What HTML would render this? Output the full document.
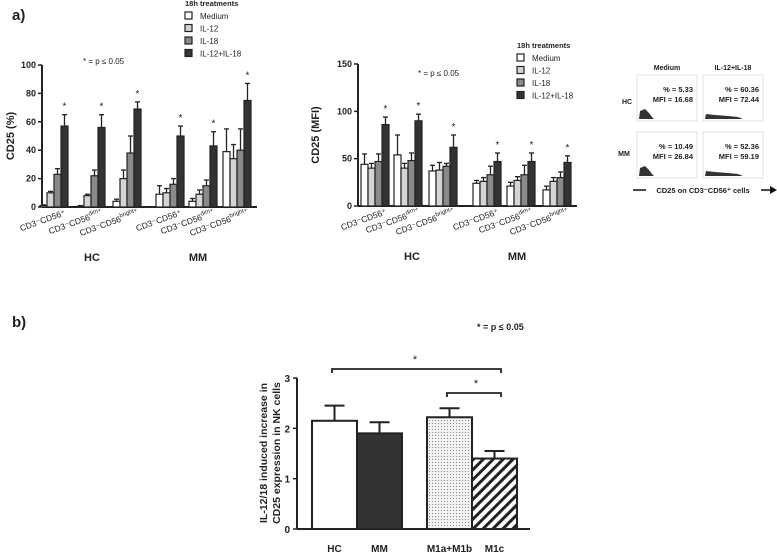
<!DOCTYPE html>
<html><head><meta charset="utf-8"><style>
body{margin:0;background:#fff;}
svg{display:block;font-family:"Liberation Sans",Arial,sans-serif;}
text{fill:#222;}
</style></head><body>
<svg id="fig" width="777" height="555" viewBox="0 0 777 555">
<defs>
<pattern id="dots" width="3" height="3" patternUnits="userSpaceOnUse"><rect width="3" height="3" fill="#f2f2f2"/><rect width="1" height="1" fill="#888"/></pattern>
<pattern id="hatch" width="7" height="7" patternUnits="userSpaceOnUse" patternTransform="rotate(45)"><rect width="7" height="7" fill="#fff"/><rect width="3" height="7" fill="#222"/></pattern>
</defs>
<text x="12" y="20" font-size="15" font-weight="bold">a)</text>
<text x="12" y="327" font-size="15" font-weight="bold">b)</text>
<g id="left"></g>
<g id="mid"></g>
<g id="flow"></g>
<g id="bot"></g>
</svg>
<script>
const NS="http://www.w3.org/2000/svg";
const treatments=["Medium","IL-12","IL-18","IL-12+IL-18"];
const groupLabels=["CD3\u207BCD56\u207A","CD3\u207BCD56dim+","CD3\u207BCD56bright+","CD3\u207BCD56\u207A","CD3\u207BCD56dim+","CD3\u207BCD56bright+"];
const pctMedium=[1,0.5,4,9,4,39];
const pctIL12=[10,8,20,10,9,34];
const pctIL18=[23,22,38,16,15,40];
const pctCombo=[57,56,69,50,43,75];
const pctErrMedium=[0.5,0.5,1.5,6,2,16];
const pctErrIL12=[1,1,6,3,3,10];
const pctErrIL18=[4,4,12,4,4,15];
const pctErrCombo=[8,9,5,7,10,12];
const pctTicks=[0,20,40,60,80,100];
const mfiMedium=[44,54,37,24,21,17];
const mfiIL12=[40,40,38,26,27,26];
const mfiIL18=[47,48,42,33,33,30];
const mfiCombo=[86,90,62,47,47,46];
const mfiErrMedium=[11,21,6,3,4,4];
const mfiErrIL12=[5,5,8,4,4,4];
const mfiErrIL18=[8,8,3,9,10,6];
const mfiErrCombo=[8,7,13,9,9,7];
const mfiTicks=[0,50,100,150];
const bCats=["HC","MM","M1a+M1b","M1c"];
const bVals=[2.15,1.9,2.22,1.4];
const bErr=[0.3,0.22,0.18,0.15];
const bTicks=[0,1,2,3];
const fills=["#fff","#d4d4d4","#8a8a8a","#333"];

function el(tag,attrs,parent,txt){const e=document.createElementNS(NS,tag);for(const k in attrs)e.setAttribute(k,attrs[k]);if(txt!==undefined)e.textContent=txt;parent.appendChild(e);return e;}

function groupedChart(g,o){
  const y=v=>o.y0-(v/o.max)*(o.y0-o.yTop);
  el("line",{x1:o.ax,y1:o.yTop,x2:o.ax,y2:o.y0,stroke:"#222","stroke-width":2},g);
  el("line",{x1:o.ax,y1:o.y0,x2:o.axEnd,y2:o.y0,stroke:"#222","stroke-width":2},g);
  o.ticks.forEach(t=>{el("line",{x1:o.ax-4,y1:y(t),x2:o.ax,y2:y(t),stroke:"#222","stroke-width":1.5},g);
    const tx=el("text",{x:o.ax-6,y:y(t)+3,"font-size":9,"text-anchor":"end","font-weight":"bold"},g,String(t));
    
    });
  const series=[o.s0,o.s1,o.s2,o.s3], errs=[o.e0,o.e1,o.e2,o.e3];
  const bw=7;
  o.groupX.forEach((gx,gi)=>{
    series.forEach((s,si)=>{
      const x=gx+si*bw, v=s[gi], e=errs[si][gi];
      el("line",{x1:x+bw/2,y1:y(v),x2:x+bw/2,y2:y(v+e),stroke:"#222","stroke-width":1.3},g);
      el("line",{x1:x+1,y1:y(v+e),x2:x+bw-1,y2:y(v+e),stroke:"#222","stroke-width":1.3},g);
      const r=el("rect",{x:x,y:y(v),width:bw,height:o.y0-y(v),fill:fills[si],stroke:"#222","stroke-width":1.2},g);
      
      
      if(si===3){const st=el("text",{x:x+bw/2,y:y(v+e)-5,"font-size":10,"text-anchor":"middle"},g,"*");
        
        }
    });
    const lx=gx+26, ly=o.y0+8;
    const t=el("text",{x:lx,y:ly,"font-size":8.5,"text-anchor":"end",transform:`rotate(-20 ${lx} ${ly})`},g);
    
    
    const parts=groupLabels[gi].match(/^(CD3\u207BCD56)(.*)$/);
    el("tspan",{},t,parts[1]);
    if(parts[2].length>1){el("tspan",{dy:-4,"font-size":6},t,parts[2]);}else{el("tspan",{},t,parts[2]);}
  });
  const yl=el("text",{x:o.ylx,y:(o.yTop+o.y0)/2,"font-size":11,"font-weight":"bold","text-anchor":"middle",transform:`rotate(-90 ${o.ylx} ${(o.yTop+o.y0)/2})`},g,o.ylabel);
  
  
  o.cond.forEach(c=>{const t=el("text",{x:c[0],y:o.y0+54,"font-size":11,"font-weight":"bold","text-anchor":"middle"},g,c[1]);
    
    });
  const p=el("text",{x:o.px,y:o.py,"font-size":8},g,"* = p \u2264 0.05");
  
  
  const lg=el("g",{},g);
  
  
  el("text",{x:o.lx,y:o.ly,"font-size":7.5,"font-weight":"bold"},lg,"18h treatments");
  treatments.forEach((t,i)=>{const yy=o.ly+6+i*12.5;
    const r=el("rect",{x:o.lx,y:yy,width:7,height:7,fill:fills[i],stroke:"#222","stroke-width":1.2},lg);
    
    
    const tt=el("text",{x:o.lx+15,y:yy+7,"font-size":8},lg,t);
    
    });
}
groupedChart(document.getElementById("left"),{ax:42,axEnd:257,yTop:65,y0:207,max:100,ticks:pctTicks,
  groupX:[40,77,113,156,189,223],s0:pctMedium,s1:pctIL12,s2:pctIL18,s3:pctCombo,
  e0:pctErrMedium,e1:pctErrIL12,e2:pctErrIL18,e3:pctErrCombo,ylabel:"CD25 (%)",ylx:14,
  cond:[[92,"HC"],[198,"MM"]],px:83,py:64,lx:185,ly:6});
groupedChart(document.getElementById("mid"),{ax:358,axEnd:577,yTop:64,y0:206,max:150,ticks:mfiTicks,
  groupX:[361,394,429,473,507,543],s0:mfiMedium,s1:mfiIL12,s2:mfiIL18,s3:mfiCombo,
  e0:mfiErrMedium,e1:mfiErrIL12,e2:mfiErrIL18,e3:mfiErrCombo,ylabel:"CD25 (MFI)",ylx:319,
  cond:[[412,"HC"],[517,"MM"]],px:418,py:76,lx:517,ly:48});

(function(){
  const g=document.getElementById("flow");
  const panels=[[637,75,"5.33","16.68",0],[703,75,"60.36","72.44",1],[637,132,"10.49","26.84",0],[703,132,"52.36","59.19",1]];
  panels.forEach((p,i)=>{
    const b=el("rect",{x:p[0],y:p[1],width:60,height:46,fill:"#fff",stroke:"#ccc","stroke-width":0.6},g);
    
    
    const base=p[1]+44;
    if(p[4]===0){el("path",{d:`M${p[0]+2} ${base} L${p[0]+3} ${base-8} L${p[0]+8} ${base-10} L${p[0]+12} ${base-6} L${p[0]+15} ${base-2} L${p[0]+17} ${base} Z`,fill:"#333"},g);}
    else{el("path",{d:`M${p[0]+2} ${base} L${p[0]+3} ${base-5} L${p[0]+12} ${base-4} L${p[0]+25} ${base-3} L${p[0]+35} ${base-2} L${p[0]+40} ${base} Z`,fill:"#333"},g);}
    const t1=el("text",{x:p[0]+56,y:p[1]+17,"font-size":7.5,"font-weight":"bold","text-anchor":"end"},g,"% = "+p[2]);
    
    
    const t2=el("text",{x:p[0]+56,y:p[1]+27,"font-size":7.5,"font-weight":"bold","text-anchor":"end"},g,"MFI = "+p[3]);
    
    
  });
  [[667,70,"Medium"],[733,70,"IL-12+IL-18"],[627,104,"HC"],[624,156,"MM"]].forEach(h=>{
    const t=el("text",{x:h[0],y:h[1],"font-size":7,"font-weight":"bold","text-anchor":"middle"},g,h[2]);
    
    });
  el("line",{x1:633,y1:190,x2:646,y2:190,stroke:"#111","stroke-width":1.5},g);
  el("line",{x1:761,y1:190,x2:771,y2:190,stroke:"#111","stroke-width":1.5},g);
  el("path",{d:"M770 186 L777 190 L770 194 Z",fill:"#111"},g);
  const t=el("text",{x:703,y:193,"font-size":7.5,"font-weight":"bold","text-anchor":"middle"},g,"CD25 on CD3\u207BCD56\u207A cells");
  
  
})();

(function(){
  const g=document.getElementById("bot");
  const ax=297,y0=529,yTop=378,max=3;
  const y=v=>y0-(v/max)*(y0-yTop);
  const xs=[312,357,427,472], bw=45;
  const bf=["#fff","#333","url(#dots)","url(#hatch)"];
  el("line",{x1:ax,y1:yTop,x2:ax,y2:y0,stroke:"#222","stroke-width":2},g);
  el("line",{x1:ax,y1:y0,x2:530,y2:y0,stroke:"#222","stroke-width":2},g);
  bTicks.forEach(t=>{el("line",{x1:ax-4,y1:y(t),x2:ax,y2:y(t),stroke:"#222","stroke-width":1.5},g);
    const tx=el("text",{x:ax-7,y:y(t)+4,"font-size":10,"font-weight":"bold","text-anchor":"end"},g,String(t));
    
    });
  bVals.forEach((v,i)=>{
    const x=xs[i],e=bErr[i];
    el("line",{x1:x+bw/2,y1:y(v),x2:x+bw/2,y2:y(v+e),stroke:"#222","stroke-width":2},g);
    el("line",{x1:x+bw/2-10,y1:y(v+e),x2:x+bw/2+10,y2:y(v+e),stroke:"#222","stroke-width":2},g);
    const r=el("rect",{x:x,y:y(v),width:bw,height:y0-y(v),fill:bf[i],stroke:"#222","stroke-width":2},g);
    
    
    const t=el("text",{x:x+bw/2,y:552,"font-size":10,"font-weight":"bold","text-anchor":"middle"},g,bCats[i]);
    
    
  });
  el("path",{d:"M332 373 L332 369 L501 369 L501 373",fill:"none",stroke:"#222","stroke-width":1.8},g);
  el("path",{d:"M447 397 L447 393 L501 393 L501 397",fill:"none",stroke:"#222","stroke-width":1.8},g);
  const s1=el("text",{x:415,y:363,"font-size":11,"text-anchor":"middle"},g,"*");
  
  
  const s2=el("text",{x:476,y:387,"font-size":11,"text-anchor":"middle"},g,"*");
  
  
  const p=el("text",{x:477,y:330,"font-size":9,"font-weight":"bold"},g,"* = p \u2264 0.05");
  
  
  const cy=453;
  const yl=el("text",{x:267,y:cy,"font-size":10.5,"font-weight":"bold","text-anchor":"middle",transform:`rotate(-90 267 ${cy})`},g,"IL-12/18 induced increase in");
  
  
  const yl2=el("text",{x:280,y:cy,"font-size":10.5,"font-weight":"bold","text-anchor":"middle",transform:`rotate(-90 280 ${cy})`},g,"CD25 expression in NK cells");
  
  
})();
</script>
</body></html>
